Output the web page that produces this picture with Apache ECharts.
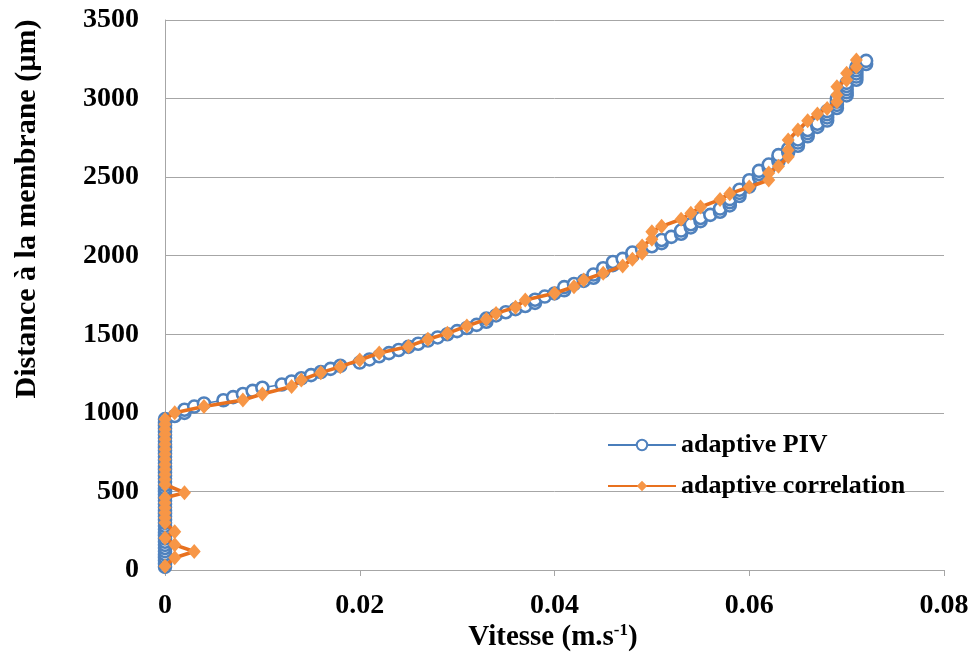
<!DOCTYPE html>
<html>
<head>
<meta charset="utf-8">
<script src="https://cdn.jsdelivr.net/npm/echarts@6/dist/echarts.min.js"></script>
<style>
html,body{margin:0;padding:0;background:#fff;}
#chart{width:974px;height:658px;}
</style>
</head>
<body>
<div id="chart"></div>
<script>
// Series names
const seriesNames = ['adaptive PIV', 'adaptive correlation'];
// Axis ticks
const xTicks = [0, 0.02, 0.04, 0.06, 0.08];
const yTicks = [0, 500, 1000, 1500, 2000, 2500, 3000, 3500];
const xTitle = 'Vitesse (m.s';
const xTitleSup = '-1';
const yTitle = 'Distance à la membrane (µm)';

// adaptive PIV: [velocity (m/s), distance (µm)]
const pivData = [
[0,20],[0,40],[0,60],[0,80],[0,100],[0,120],[0,140],[0,160],[0,180],[0,200],
[0,220],[0,240],[0,260],[0,280],[0,300],[0,320],[0,340],[0,360],[0,380],[0,400],
[0,420],[0,440],[0,460],[0,480],[0,500],[0,520],[0,540],[0,560],[0,580],[0,600],
[0,620],[0,640],[0,660],[0,680],[0,700],[0,720],[0,740],[0,760],[0,780],[0,800],
[0,820],[0,840],[0,860],[0,880],[0,900],[0,920],[0,940],[0,960],
[0.001,980],[0.002,1000],[0.002,1020],[0.003,1040],[0.004,1060],[0.006,1080],[0.007,1100],[0.008,1120],[0.009,1140],[0.010,1160],
[0.012,1180],[0.013,1200],[0.014,1220],[0.015,1240],[0.016,1260],[0.017,1280],[0.018,1300],[0.020,1320],[0.021,1340],[0.022,1360],
[0.023,1380],[0.024,1400],[0.025,1420],[0.026,1440],[0.027,1460],[0.028,1480],[0.029,1500],[0.030,1520],[0.031,1540],[0.032,1560],
[0.033,1580],[0.033,1600],[0.034,1620],[0.035,1640],[0.036,1660],[0.037,1680],[0.038,1700],[0.038,1720],[0.039,1740],[0.040,1760],
[0.041,1780],[0.041,1800],[0.042,1820],[0.043,1840],[0.044,1860],[0.044,1880],[0.045,1900],[0.045,1920],[0.046,1940],[0.046,1960],
[0.047,1980],[0.048,2000],[0.048,2020],[0.049,2040],[0.050,2060],[0.051,2080],[0.051,2100],[0.052,2120],[0.053,2140],[0.053,2160],
[0.054,2180],[0.054,2200],[0.055,2220],[0.055,2240],[0.056,2260],[0.057,2280],[0.057,2300],[0.058,2320],[0.058,2340],[0.058,2360],
[0.059,2380],[0.059,2400],[0.059,2420],[0.060,2440],[0.060,2460],[0.060,2480],[0.061,2500],[0.061,2520],[0.061,2540],[0.062,2560],
[0.062,2580],[0.063,2600],[0.063,2620],[0.063,2640],[0.064,2660],[0.064,2680],[0.065,2700],[0.065,2720],[0.065,2740],[0.066,2760],
[0.066,2780],[0.066,2800],[0.067,2820],[0.067,2840],[0.068,2860],[0.068,2880],[0.068,2900],[0.068,2920],[0.069,2940],[0.069,2960],
[0.069,2980],[0.069,3000],[0.070,3020],[0.070,3040],[0.070,3060],[0.070,3080],[0.070,3100],[0.071,3120],[0.071,3140],[0.071,3160],
[0.071,3180],[0.071,3200],[0.072,3220],[0.072,3240]
];

// adaptive correlation: [velocity (m/s), distance (µm)]
const corrData = [
[0,24],[0.001,78],[0.003,118],[0.001,160],[0,204],[0.001,244],[0,300],[0,332],[0,364],[0,396],
[0,428],[0,460],[0.002,492],[0,544],[0,576],[0,608],[0,640],[0,672],[0,704],[0,736],
[0,768],[0,800],[0,832],[0,864],[0,896],[0,928],[0,960],
[0.001,1001],[0.004,1040],[0.008,1082],[0.010,1120],[0.013,1167],[0.014,1209],[0.016,1256],[0.018,1294],[0.020,1336],[0.022,1381],
[0.025,1423],[0.027,1468],[0.029,1506],[0.031,1553],[0.033,1595],[0.034,1633],[0.036,1672],[0.037,1718],[0.040,1761],[0.042,1803],
[0.043,1845],[0.045,1888],[0.047,1935],[0.048,1977],[0.049,2015],[0.049,2062],[0.050,2104],[0.050,2153],[0.051,2187],[0.053,2232],
[0.054,2270],[0.055,2310],[0.057,2357],[0.058,2395],[0.060,2437],[0.062,2482],[0.062,2526],[0.063,2570],[0.064,2630],[0.064,2673],
[0.064,2736],[0.065,2800],[0.066,2859],[0.067,2902],[0.068,2937],[0.069,2979],[0.069,3023],[0.069,3076],[0.070,3118],[0.070,3161],
[0.071,3203],[0.071,3245]
];

const FONT = '"Liberation Serif", "Times New Roman", serif';
const chart = echarts.init(document.getElementById('chart'), null, {renderer: 'canvas'});
const option = {
  animation: false,
  backgroundColor: '#ffffff',
  grid: {left: 165, right: 30, top: 20, bottom: 88, containLabel: false},
  xAxis: {
    type: 'value',
    min: xTicks[0], max: xTicks[xTicks.length - 1], interval: 0.02,
    axisLine: {show: true, lineStyle: {color: '#A6A6A6', width: 1}},
    axisTick: {show: true, length: 6, lineStyle: {color: '#A6A6A6'}},
    splitLine: {show: false},
    axisLabel: {margin: 22, color: '#000', fontFamily: FONT, fontWeight: 'bold', fontSize: 28,
      formatter: v => String(+v.toFixed(2))}
  },
  yAxis: {
    type: 'value',
    min: yTicks[0], max: yTicks[yTicks.length - 1], interval: 500,
    axisLine: {show: true, lineStyle: {color: '#A6A6A6', width: 1}},
    axisTick: {show: false},
    splitLine: {show: true, lineStyle: {color: '#A6A6A6', width: 1}},
    axisLabel: {margin: 26, color: '#000', fontFamily: FONT, fontWeight: 'bold', fontSize: 28,
      formatter: v => String(v)}
  },
  legend: {
    orient: 'vertical', left: 602, top: 427, itemGap: 15, itemWidth: 68, itemHeight: 13,
    textStyle: {fontFamily: FONT, fontWeight: 'bold', fontSize: 26, color: '#000'},
    data: seriesNames
  },
  graphic: [
    {type: 'text', x: 27, y: 209, rotation: Math.PI / 2,
     style: {text: yTitle, font: 'bold 30px ' + FONT, fill: '#000',
       align: 'center', verticalAlign: 'middle', textAlign: 'center', textVerticalAlign: 'middle'}},
    {type: 'text', x: 553, y: 638,
     style: {text: '{b|' + xTitle + '}{s|' + xTitleSup + '}{b|)}', fill: '#000',
       align: 'center', verticalAlign: 'middle', textAlign: 'center', textVerticalAlign: 'middle',
       rich: {
         b: {fontFamily: FONT, fontWeight: 'bold', fontSize: 29, lineHeight: 32, fill: '#000'},
         s: {fontFamily: FONT, fontWeight: 'bold', fontSize: 17, verticalAlign: 'top', lineHeight: 32, fill: '#000'}
       }}}
  ],
  series: [
    {
      name: seriesNames[0], type: 'line', data: pivData,
      symbol: 'circle', symbolSize: 12,
      itemStyle: {color: '#ffffff', borderColor: '#4F81BD', borderWidth: 2.6},
      lineStyle: {color: '#4A7EBB', width: 1.5},
      z: 2
    },
    {
      name: seriesNames[1], type: 'line', data: corrData,
      symbol: 'diamond', symbolSize: [13, 15],
      itemStyle: {color: '#F79646', borderWidth: 0},
      lineStyle: {color: '#E8711F', width: 3.6},
      z: 3
    }
  ]
};
chart.setOption(option);
</script>
</body>
</html>
